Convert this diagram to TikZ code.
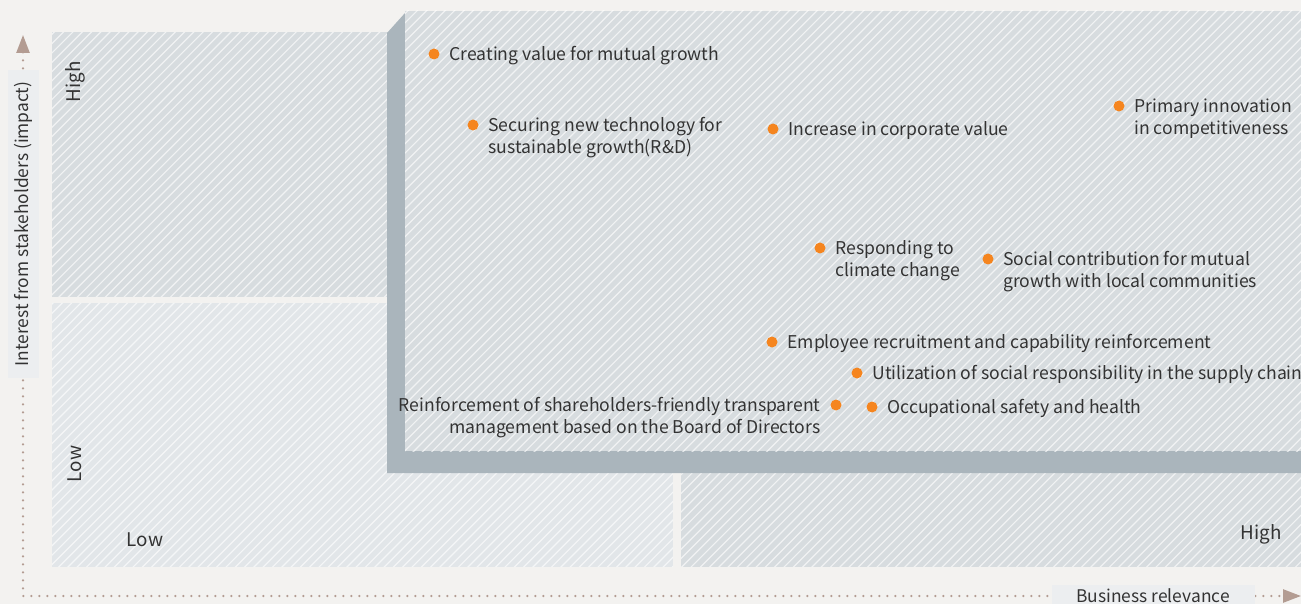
\documentclass[tikz,border=0pt]{standalone}
\usepackage{fontspec}
\setmainfont{Noto Sans CJK KR}
\usetikzlibrary{arrows.meta}

\definecolor{paper}{HTML}{F3F2F0}
\definecolor{quaddark}{HTML}{D7DCDF}
\definecolor{quadlight}{HTML}{E2E6E9}
\definecolor{bevel}{HTML}{AAB5BC}
\definecolor{dotorange}{HTML}{F5851F}
\definecolor{axisbrown}{HTML}{B39C92}
\definecolor{tagbox}{HTML}{ECEEF0}
\definecolor{ink}{HTML}{333333}

\tikzset{
	hatch/.style={white, opacity=0.65, line width=0.6pt},
	topic/.style={circle, fill=dotorange, inner sep=0pt, minimum size=5.5pt},
	topictext/.style={anchor=base west, inner sep=0pt, text=ink, font=\fontsize{8.8pt}{11pt}\selectfont},
	quadtext/.style={inner sep=0pt, text=ink, font=\fontsize{9.4pt}{12pt}\selectfont},
	axistag/.style={fill=tagbox, text=ink, inner sep=0pt, font=\fontsize{8.7pt}{11pt}\selectfont},
	axisline/.style={draw=axisbrown, line width=1.25pt, line cap=round, dash pattern=on 0pt off 4pt,
		{Triangle[width=6.5pt,length=9pt]}-{Triangle[width=6.5pt,length=9pt]}}
}

\begin{document}
\begin{tikzpicture}[x=0.5pt, y=-0.5pt]
	\useasboundingbox (0,0) rectangle (1301,604);
	\fill[paper] (0,0) rectangle (1301,604);
	
	% quadrants
	\fill[quaddark] (52,32) rectangle (673,297);
	\fill[quadlight] (52,303) rectangle (673,567);
	\fill[quaddark] (681,303) rectangle (1301,567);
	\begin{scope}
		\clip (52,32) rectangle (673,297) (52,303) rectangle (673,567) (681,303) rectangle (1301,567);
		\foreach \k in {-620,-610.7,...,1301} \draw[hatch] (\k,604) -- ++(620,-620);
	\end{scope}
	
	% raised box
	\fill[bevel] (387,33) -- (405,13) -- (1301,13) -- (1301,473) -- (387,473) -- cycle;
	\fill[quaddark] (405,11) rectangle (1301,451);
	\begin{scope}
		\clip (405,11) rectangle (1301,451);
		\foreach \k in {-60,-50.7,...,1301} \draw[hatch] (\k,460) -- ++(470,-470);
	\end{scope}
	
	% axes
	\coordinate (origin) at (23,596);
	\coordinate (ytip) at (23,35);
	\coordinate (xtip) at (1301,596);
	\draw[axisline] (ytip) -- (origin) -- (xtip);
	\node[axistag, rotate=90, minimum width=154pt, minimum height=15.5pt] (ylab) at (23,224) {Interest from stakeholders (impact)};
	\node[axistag, minimum width=101.5pt, minimum height=11pt] (xlab) at (1153,596) {Business relevance};
	
	\node[quadtext, rotate=90] (highy) at (75,82) {High};
	\node[quadtext, rotate=90] (lowy) at (75,464) {Low};
	\node[quadtext] (lowx) at (145,540) {Low};
	\node[quadtext] (highx) at (1261,534) {High};
	
	% topics
	\node[topic] (value) at (434,54) {};
	\node[topic] (tech) at (473,125) {};
	\node[topic] (corp) at (773,129) {};
	\node[topic] (innov) at (1119,106) {};
	\node[topic] (climate) at (820,248) {};
	\node[topic] (social) at (988,259) {};
	\node[topic] (employee) at (772,342) {};
	\node[topic] (supply) at (857,373) {};
	\node[topic] (board) at (836,405) {};
	\node[topic] (safety) at (872,407) {};
	
	\node[topictext] (value-t) at ([shift={(15,6.5)}]value.center) {Creating value for mutual growth};
	\node[topictext] (tech-t) at ([shift={(15,6.5)}]tech.center) {\begin{tabular}[t]{@{}l@{}}Securing new technology for\\sustainable growth(R\&D)\end{tabular}};
	\node[topictext] (corp-t) at ([shift={(15,6.5)}]corp.center) {Increase in corporate value};
	\node[topictext] (innov-t) at ([shift={(15,6.5)}]innov.center) {\begin{tabular}[t]{@{}l@{}}Primary innovation\\in competitiveness\end{tabular}};
	\node[topictext] (climate-t) at ([shift={(15,6.5)}]climate.center) {\begin{tabular}[t]{@{}l@{}}Responding to\\climate change\end{tabular}};
	\node[topictext] (social-t) at ([shift={(15,6.5)}]social.center) {\begin{tabular}[t]{@{}l@{}}Social contribution for mutual\\growth with local communities\end{tabular}};
	\node[topictext] (employee-t) at ([shift={(15,6.5)}]employee.center) {Employee recruitment and capability reinforcement};
	\node[topictext] (supply-t) at ([shift={(15,6.5)}]supply.center) {Utilization of social responsibility in the supply chain};
	\node[topictext, anchor=base east] (board-t) at ([shift={(-15,6.5)}]board.center) {\begin{tabular}[t]{@{}r@{}}Reinforcement of shareholders-friendly transparent\\management based on the Board of Directors\end{tabular}};
	\node[topictext] (safety-t) at ([shift={(15,6.5)}]safety.center) {Occupational safety and health};
\end{tikzpicture}
\end{document}
